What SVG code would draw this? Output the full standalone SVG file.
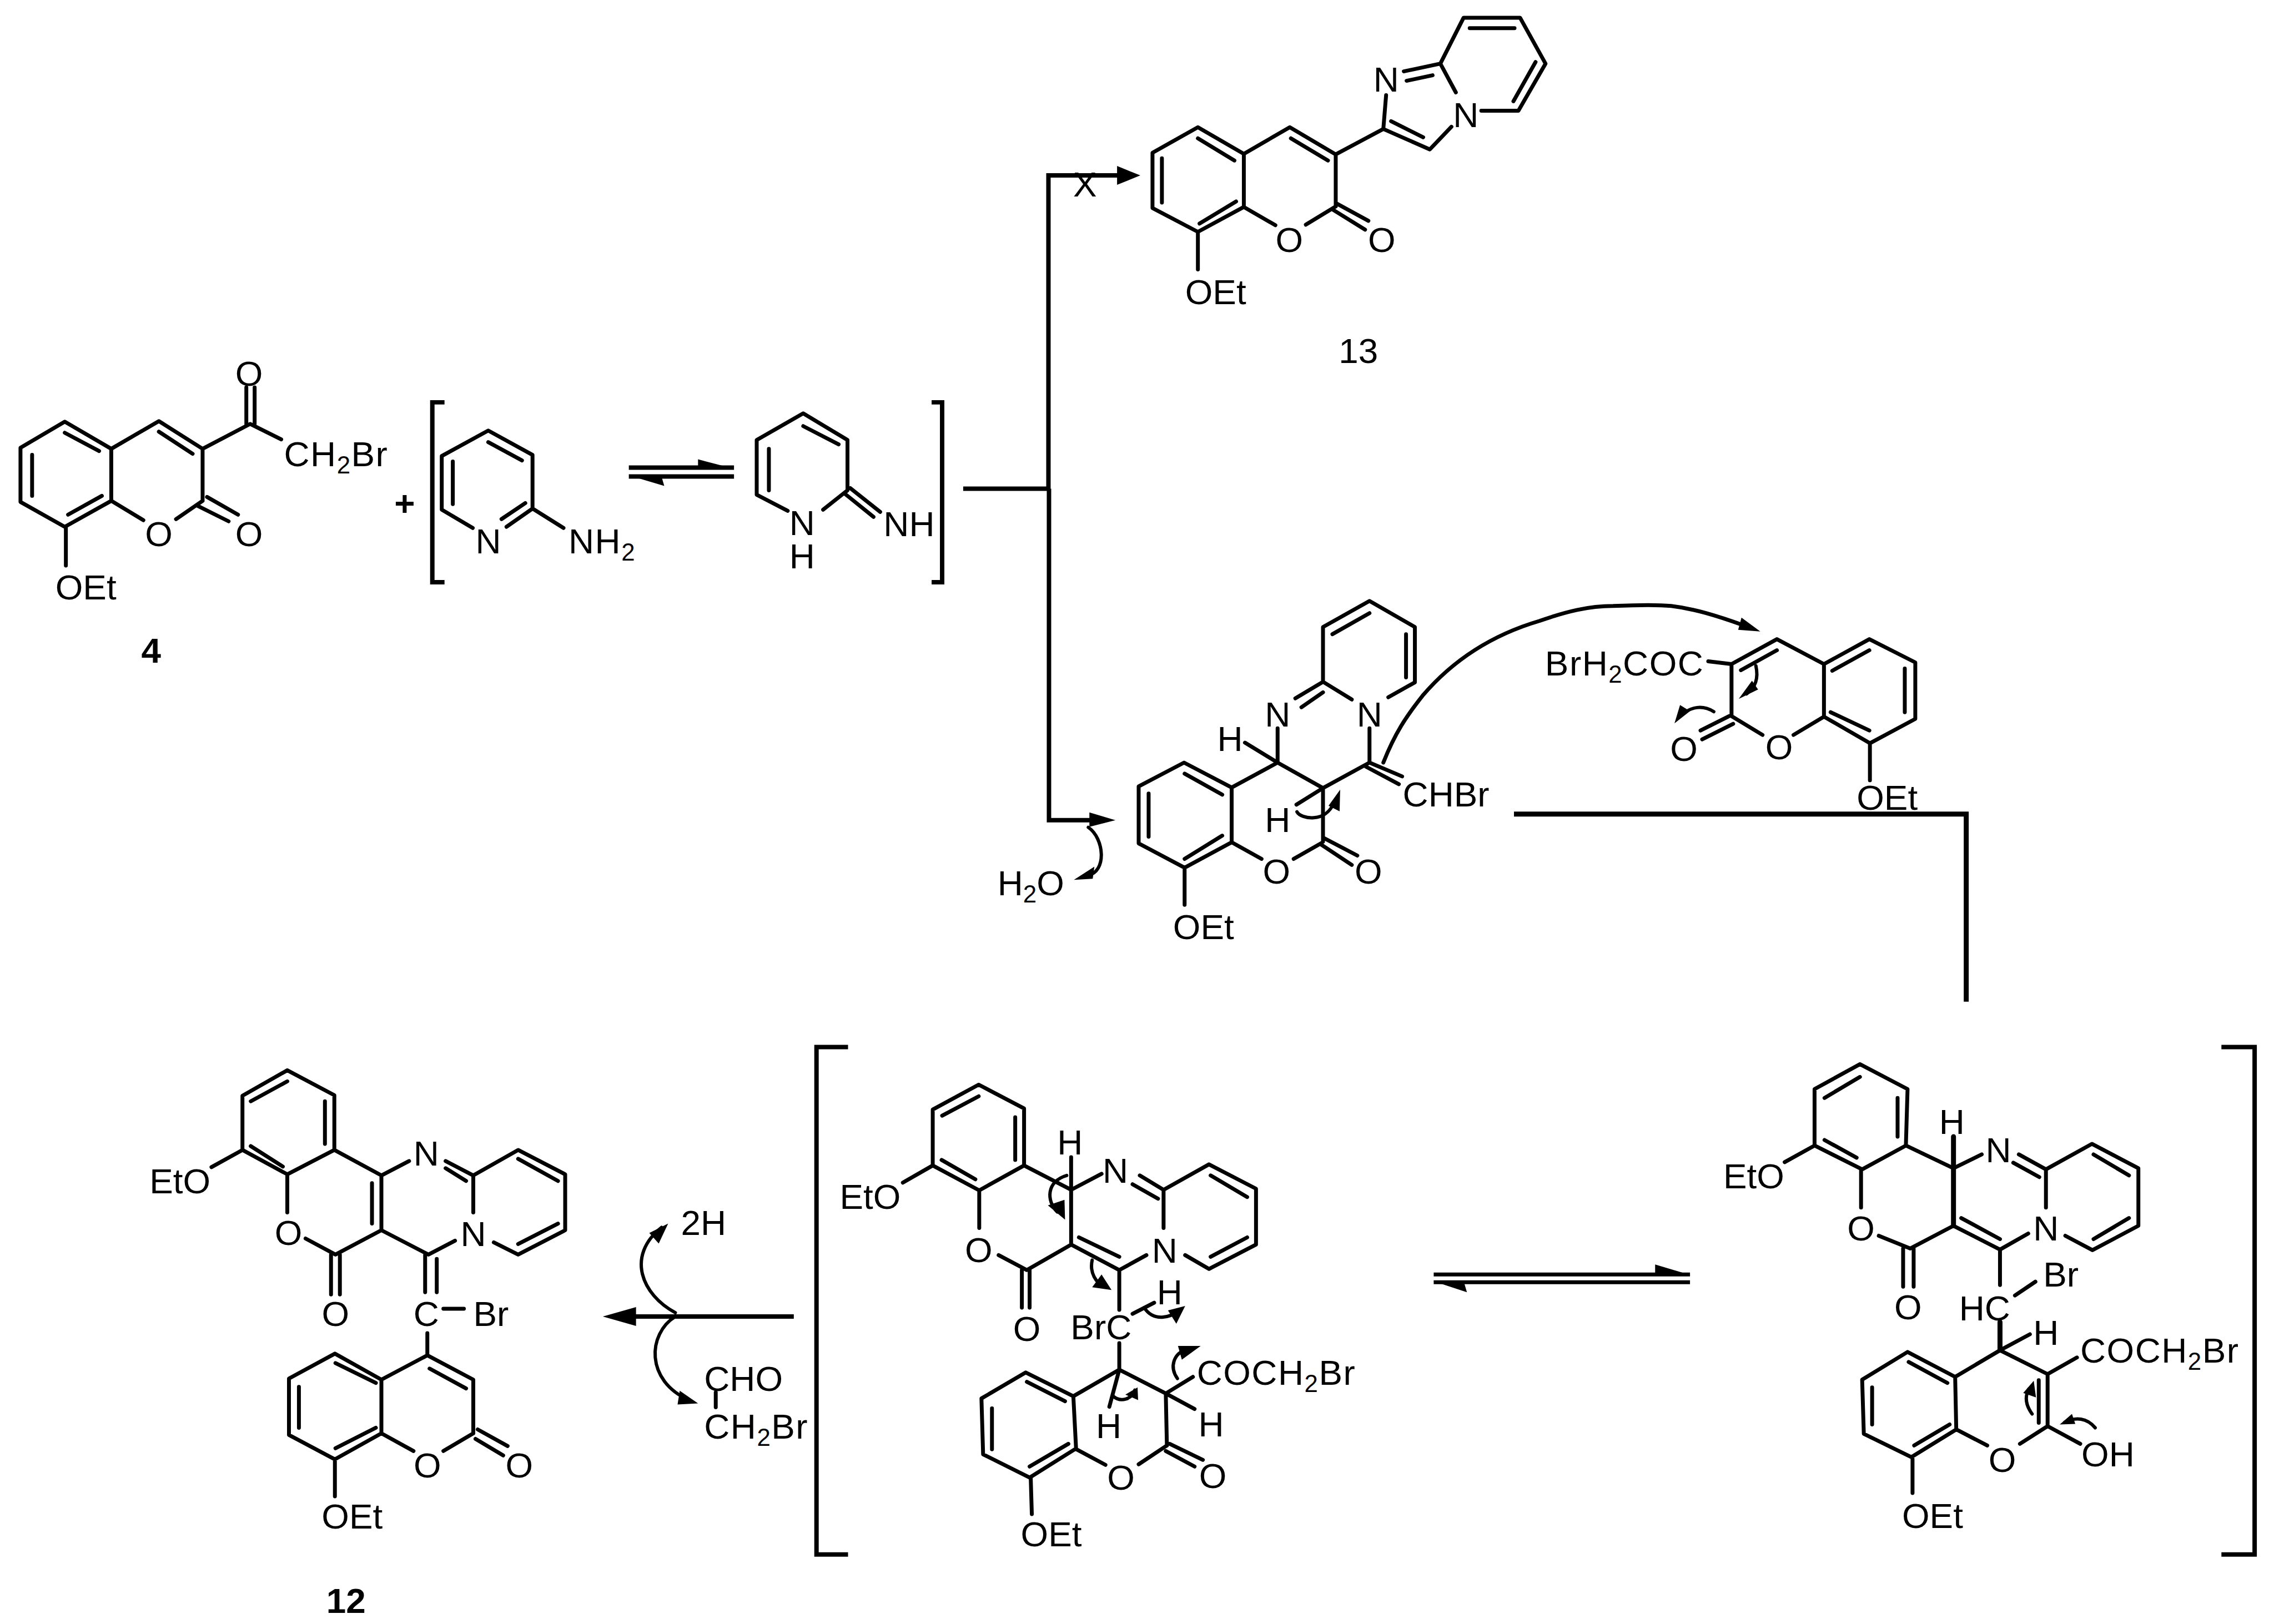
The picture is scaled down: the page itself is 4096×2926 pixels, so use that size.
<svg xmlns="http://www.w3.org/2000/svg" width="4096" height="2926" viewBox="0 0 4096 2926">
<style>
.b{fill:none;stroke:#000;stroke-width:7;stroke-linecap:round;stroke-linejoin:round}
.c{fill:none;stroke:#000;stroke-width:8;stroke-linecap:butt;stroke-linejoin:miter}
.a{fill:none;stroke:#000;stroke-width:6;stroke-linecap:round}
.h{fill:#000;stroke:none}
text{font-family:"Liberation Sans",Arial,sans-serif;font-size:64px;fill:#000}
.m{text-anchor:middle}
.s{font-size:44px}
.k{font-weight:bold}
.w{letter-spacing:1.5px}
</style>
<rect width="4096" height="2926" fill="#fff"/>
<g transform="scale(0.99708)">
<g id="compound-4">
<path class="b" d="M117 762L201 811V905L117 952L37 907V809ZM117 782L179 815M58 822V896M123 930L184 896M201 811L287 761L366 811V905M287 780L348 820M201 905L259 940M366 905L318 938M374 898L430 930M355 913L413 942M366 811L452 766L508 794M445 700V766M460 700V766M119 952V1022"/>
<text class="m" x="287" y="987">O</text><text class="m" x="450" y="987">O</text><text class="m" x="450" y="697">O</text>
<text class="w" x="513" y="842">CH<tspan class="s" dy="13">2</tspan><tspan dy="-13">Br</tspan></text>
<text x="100" y="1083">OEt</text>
<text class="m k" x="273" y="1197">4</text>
</g>
<text id="plus" class="m k" x="731" y="932">+</text>
<g id="aminopyridine">
<path class="b" d="M854 954L798 921V824L882 778L962 822V919L915 952M882 799L943 832M818 834V911M949 909L906 938M962 919L1018 954"/>
<text class="m" x="882" y="1000">N</text>
<text class="w" x="1027" y="1000">NH<tspan class="s" dy="13">2</tspan></text>
</g>
<g id="iminopyridine">
<path class="b" d="M1423 923L1367 894V795L1451 747L1531 795V886L1487 921M1451 770L1515 803M1389 811V886M1536 882L1590 925M1526 892L1578 934"/>
<text class="m" x="1449" y="967">N</text><text class="m" x="1449" y="1027">H</text>
<text x="1596" y="969">NH</text>
</g>
<g id="bracket-tautomers">
<path class="c" d="M803 727H781V1052H803"/><path class="c" d="M1683 727H1702V1052H1683"/>
</g>
<g id="compound-13">
<path class="b" d="M2164 230L2247 278V374L2164 419L2082 376V276ZM2164 250L2230 290M2099 286V366M2167 404L2233 364M2247 278L2330 230L2413 279V373M2332 250L2399 290M2247 374L2304 407M2413 373L2359 406M2415 368L2472 399M2408 379L2466 415M2164 419V487M2413 279L2499 233L2583 270L2622 229M2513 219L2571 248M2499 233L2504 172M2536 129L2602 115M2541 146L2588 136M2602 115L2630 167M2602 115L2644 32H2746L2792 115L2743 200H2676M2655 51H2736M2774 112L2734 183"/>
<text class="m" x="2329" y="455">O</text><text class="m" x="2496" y="455">O</text>
<text class="m" x="2504" y="165">N</text><text class="m" x="2648" y="230">N</text>
<text x="2141" y="550">OEt</text>
<text class="m" x="2454" y="656">13</text>
</g>
<g id="intermediate-a">
<path class="b" d="M2139 1378L2225 1423V1522L2140 1568L2057 1524V1421ZM2140 1398L2208 1436M2075 1434V1512M2140 1552L2208 1510M2225 1423L2308 1378L2390 1424L2474 1378V1316M2308 1378V1316M2249 1342L2308 1378M2340 1262L2390 1232L2442 1264M2351 1278L2390 1251M2390 1232V1133L2474 1086L2556 1133V1233L2508 1260M2407 1146L2474 1108M2540 1146V1224M2474 1378L2533 1403M2467 1385L2527 1417M2390 1424V1521M2225 1522L2279 1552M2388 1523L2337 1552M2391 1514L2452 1546M2385 1525L2442 1563M2390 1424L2342 1454M2140 1568V1635"/>
<text class="m" x="2308" y="1313">N</text><text class="m" x="2474" y="1313">N</text><text class="m" x="2222" y="1357">H</text>
<text x="2534" y="1457">CHBr</text><text class="m" x="2308" y="1503">H</text>
<text class="m" x="2306" y="1597">O</text><text class="m" x="2472" y="1597">O</text>
<text x="2119" y="1697">OEt</text>
<path class="a" d="M2343 1467C2350 1480 2395 1488 2410 1450"/><path class="h" d="M2421 1427L2420 1466L2400 1456Z"/>
</g>
<g id="water">
<text x="1802" y="1618">H<tspan class="s" dy="13">2</tspan><tspan dy="-13">O</tspan></text>
<path class="a" d="M1966 1495C1995 1515 2000 1575 1965 1582"/><path class="h" d="M1940 1590L1977 1566L1974 1588Z"/>
</g>
<g id="coumarin-reactant">
<path class="b" d="M3128 1200L3210 1155L3295 1200V1295L3240 1328M3128 1200V1294L3184 1328M3145 1211L3210 1175M3086 1195L3128 1200M3124 1294L3072 1320M3131 1308L3075 1336M3295 1200L3377 1155L3460 1197V1299L3378 1343L3295 1295M3377 1175L3310 1212M3441 1208V1287M3307 1287L3377 1320M3378 1343V1410"/>
<text class="w" x="2791" y="1221">BrH<tspan class="s" dy="13">2</tspan><tspan dy="-13">COC</tspan></text>
<text class="m" x="3214" y="1372">O</text><text class="m" x="3042" y="1375">O</text>
<text x="3354" y="1463">OEt</text>
<path class="a" d="M3172 1203C3178 1230 3168 1245 3155 1254"/><path class="h" d="M3141 1263L3165 1230L3176 1246Z"/>
<path class="a" d="M3096 1286C3075 1273 3055 1278 3040 1290"/><path class="h" d="M3025 1307L3035 1274L3053 1285Z"/>
</g>
<g id="compound-12">
<path class="b" d="M519 1934L604 1979V2078L519 2122L438 2078V1980ZM519 1954L453 1990M587 1990V2067M453 2071L511 2108M438 2078L382 2109M519 2122V2191M552 2238L606 2267L689 2223V2124L604 2078M672 2138V2211M598 2267V2339M614 2267V2339M689 2124L739 2098M805 2098L855 2124M805 2111L842 2134M855 2124L936 2078L1021 2122V2223L936 2267L892 2245M936 2094L1008 2134M936 2248L1008 2211M855 2124V2191M689 2223L774 2267L822 2242M768 2267V2335M789 2275V2335M801 2365H838M772 2409V2449M772 2449L855 2493V2590M776 2473L842 2509M772 2449L689 2493V2590M689 2590L747 2622M855 2590L801 2622M863 2583L917 2613M859 2600L909 2630M689 2493L605 2446L522 2491V2593L605 2637L689 2590M606 2463L679 2499M540 2506V2580M606 2617L679 2580M605 2637V2704"/>
<text x="270" y="2156">EtO</text><text class="m" x="521" y="2250">O</text><text class="m" x="606" y="2396">O</text>
<text class="m" x="770" y="2106">N</text><text class="m" x="855" y="2252">N</text><text class="m" x="770" y="2396">C</text><text x="855" y="2396">Br</text>
<text class="m" x="772" y="2670">O</text><text class="m" x="938" y="2670">O</text><text x="581" y="2762">OEt</text>
<text class="m k" x="625" y="2915">12</text>
</g>
<g id="byproducts">
<text x="1230" y="2232">2H</text><text x="1272" y="2513">CHO</text>
<text class="w" x="1272" y="2600">CH<tspan class="s" dy="13">2</tspan><tspan dy="-13">Br</tspan></text>
<path class="b" d="M1293 2516V2543"/>
</g>
<g id="bracket-left"><path class="c" d="M1532 1892H1475V2809H1532"/></g>
<g id="intermediate-b">
<path class="b" d="M1768 1960L1850 2003V2106L1769 2151L1685 2106V2005ZM1768 1981L1702 2016M1834 2019V2096M1701 2096L1762 2131M1685 2106L1631 2137M1769 2151V2219M1804 2268L1855 2295L1935 2249V2150L1850 2106M1846 2295V2363M1860 2295V2363M1935 2091V2150M1935 2150L1990 2121M2059 2124L2102 2150M2046 2140L2092 2166M2102 2150L2184 2104L2269 2148V2249L2184 2293L2141 2268M2187 2124L2253 2163M2187 2271L2253 2236M2102 2150V2219M1935 2249L2022 2295L2071 2268M1949 2236L2022 2271M2022 2295V2367M2046 2374L2085 2354M2022 2427V2475M2022 2475L2106 2518L2108 2612M2106 2518L2155 2488M2106 2518L2158 2546M2022 2475L2004 2542M2022 2475L1939 2523L1944 2619M1943 2618L1997 2647M2108 2612L2057 2646M2113 2609L2173 2638M2106 2622L2158 2650M1939 2523L1853 2480L1773 2527L1776 2628L1860 2670L1943 2618M1855 2497L1924 2532M1792 2545V2619M1860 2650L1930 2609M1862 2670L1864 2736"/>
<text x="1517" y="2184">EtO</text><text class="m" x="1768" y="2281">O</text><text class="m" x="1855" y="2423">O</text>
<text class="m" x="1933" y="2086">H</text><text class="m" x="2015" y="2137">N</text><text class="m" x="2104" y="2282">N</text>
<text x="1934" y="2420">BrC</text><text class="m" x="2113" y="2357">H</text>
<text class="w" x="2162" y="2502">COCH<tspan class="s" dy="13">2</tspan><tspan dy="-13">Br</tspan></text>
<text class="m" x="2188" y="2596">H</text><text class="m" x="2003" y="2599">H</text>
<text class="m" x="2025" y="2692">O</text><text class="m" x="2191" y="2689">O</text><text x="1844" y="2794">OEt</text>
<path class="a" d="M1927 2124C1890 2135 1890 2170 1910 2190"/><path class="h" d="M1924 2204L1893 2178L1923 2168Z"/>
<path class="a" d="M1973 2277C1968 2300 1980 2318 1995 2325"/><path class="h" d="M2008 2331L1973 2326L1990 2303Z"/>
<path class="a" d="M2067 2363C2085 2390 2115 2380 2130 2368"/><path class="h" d="M2141 2360L2125 2392L2110 2368Z"/>
<path class="a" d="M2127 2491C2112 2470 2120 2445 2145 2438"/><path class="h" d="M2169 2432L2135 2457L2128 2432Z"/>
<path class="a" d="M2011 2523C2025 2535 2045 2528 2050 2512"/><path class="h" d="M2055 2507L2056 2530L2033 2520Z"/>
</g>
<g id="intermediate-c">
<path class="b" d="M3360 1923L3446 1968L3443 2070L3364 2113L3278 2070V1968ZM3360 1946L3296 1984M3428 1984V2054M3296 2060L3354 2092M3278 2070L3224 2100M3362 2113V2182M3394 2233L3451 2256L3529 2215V2111L3443 2070M3438 2256V2325M3457 2256V2325M3529 2054V2111M3529 2111L3580 2086M3647 2086L3696 2113M3637 2101L3684 2127M3696 2113L3779 2067L3863 2111V2215L3780 2259L3731 2233M3782 2086L3846 2124M3782 2239L3846 2201M3696 2113V2182M3529 2215L3613 2258L3664 2229M3543 2201L3613 2239M3613 2258V2322M3640 2341L3677 2316M3613 2389V2440M3613 2440L3667 2411M3613 2440L3699 2483L3752 2453M3699 2483V2577M3683 2494V2571M3699 2577L3758 2609M3699 2577L3649 2609M3534 2583L3590 2612M3613 2440L3532 2488L3534 2583M3532 2488L3446 2443L3364 2493L3367 2591L3453 2633L3534 2583M3448 2461L3518 2499M3382 2507V2574M3458 2612L3522 2574M3455 2633V2698"/>
<path class="b" style="stroke-width:9" d="M3529 2054V2215M3613 2389V2440"/>
<text x="3113" y="2147">EtO</text><text class="m" x="3362" y="2242">O</text><text class="m" x="3447" y="2384">O</text>
<text class="m" x="3526" y="2049">H</text><text class="m" x="3610" y="2100">N</text><text class="m" x="3696" y="2242">N</text>
<text x="3691" y="2325">Br</text><text x="3539" y="2386">HC</text><text class="m" x="3696" y="2430">H</text>
<text class="w" x="3758" y="2462">COCH<tspan class="s" dy="13">2</tspan><tspan dy="-13">Br</tspan></text>
<text x="3760" y="2650">OH</text><text class="m" x="3617" y="2660">O</text><text x="3436" y="2761">OEt</text>
<path class="a" d="M3671 2555C3660 2540 3657 2525 3665 2510"/><path class="h" d="M3674 2495L3678 2525L3655 2517Z"/>
<path class="a" d="M3785 2580C3770 2562 3750 2560 3730 2570"/><path class="h" d="M3721 2574L3743 2555L3749 2573Z"/>
</g>
<g id="bracket-right"><path class="c" d="M4013 1892H4073V2809H4013"/></g>
<g id="connectors">
<path class="c" d="M1136 845H1326M1136 861H1326"/>
<path class="h" d="M1261 830L1326 847L1261 845ZM1136 859L1200 878L1195 861Z"/>
<path class="c" d="M1740 883H1895M1894 883V317H2030M1895 883V1482H1980"/>
<path class="h" d="M2060 317L2018 300V334ZM2015 1482L1968 1468V1494Z"/>
<text class="m" x="1960" y="355">X</text>
<path class="a" style="stroke-width:7" d="M2499 1378C2520 1325 2540 1295 2570 1257C2640 1175 2720 1140 2781 1122C2830 1105 2870 1095 2914 1095C2960 1093 3000 1093 3019 1095C3060 1100 3100 1112 3150 1130"/>
<path class="h" d="M3180 1141L3146 1116L3140 1138Z"/>
<path class="c" style="stroke-width:9" d="M2735 1471H3552V1810"/>
<path class="c" style="stroke-width:7" d="M2590 2303H3053M2590 2317H3053"/>
<path class="h" d="M2990 2285L3054 2304L2990 2300ZM2589 2315L2650 2335L2645 2318Z"/>
<path class="c" d="M1434 2379H1130"/>
<path class="h" d="M1089 2379L1149 2362V2396Z"/>
<path class="a" d="M1220 2372C1160 2340 1130 2270 1195 2218"/><path class="h" d="M1207 2211L1173 2228L1190 2247Z"/>
<path class="a" d="M1220 2379C1170 2410 1165 2495 1245 2530"/><path class="h" d="M1261 2536L1228 2513L1224 2538Z"/>
</g>
</g>
</svg>
